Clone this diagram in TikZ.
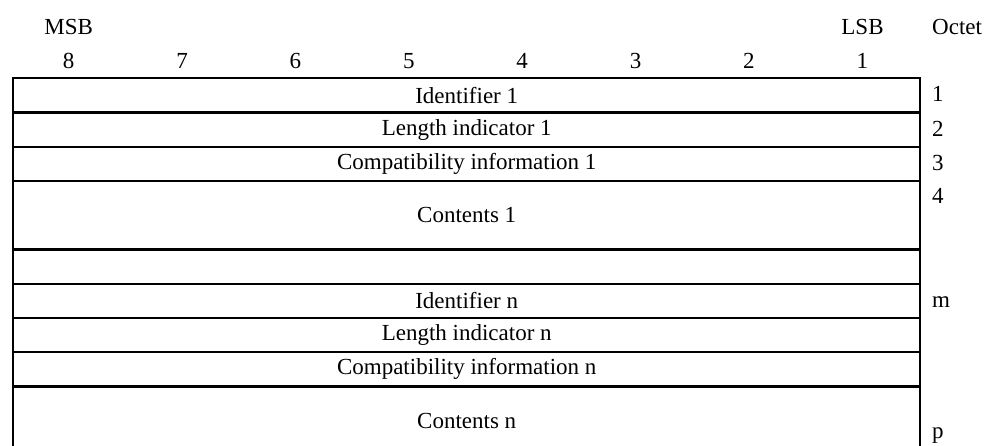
\documentclass[tikz,border=0pt]{standalone}
\usepackage{fontspec}
\setmainfont{Liberation Serif}
\newcommand\diagfont{\fontsize{23}{27}\selectfont}
\begin{document}
\begin{tikzpicture}[x=1pt,y=-1pt,
  field/.style={draw, line width=2.4pt, minimum width=907pt, minimum height=#1,
    anchor=north west, inner sep=0pt, font=\diagfont},
  lbl/.style={inner sep=0pt, anchor=base, font=\diagfont},
  rlbl/.style={inner sep=0pt, anchor=base west, font=\diagfont}]
\useasboundingbox (0,0) rectangle (988,445);
\clip (0,0) rectangle (988,445);
% header
\node[lbl] (msb) at (68.7,34.3) {MSB};
\node[lbl] (lsb) at (862.5,34.3) {LSB};
\node[rlbl] (oct) at (932,34.3) {Octet};
\foreach \i in {1,...,8} {
  \node[lbl] (bit\i) at ({12+113.375*(8-\i)+56.7},68.8) {\i};
}
% fields
\node[field=34.25pt] (id1) at (12,77) {Identifier 1};
\node[field=34.25pt] (len1) at (12,111.25) {Length indicator 1};
\node[field=34.25pt] (cmp1) at (12,145.5) {Compatibility information 1};
\node[field=68.5pt] (cnt1) at (12,179.75) {Contents 1};
\node[field=34.25pt] (gap) at (12,248.25) {};
\node[field=34.25pt] (idn) at (12,282.5) {Identifier n};
\node[field=34.25pt] (lenn) at (12,316.75) {Length indicator n};
\node[field=34.25pt] (cmpn) at (12,351) {Compatibility information n};
\node[field=68.5pt] (cntn) at (12,385.25) {Contents n};
% octet numbers
\node[rlbl] (o1) at (932,101.9) {1};
\node[rlbl] (o2) at (932,136.2) {2};
\node[rlbl] (o3) at (932,170.4) {3};
\node[rlbl] (o4) at (932,203) {4};
\node[rlbl] (om) at (932,307) {m};
\node[rlbl] (op) at (932,438.5) {p};
\end{tikzpicture}
\end{document}
